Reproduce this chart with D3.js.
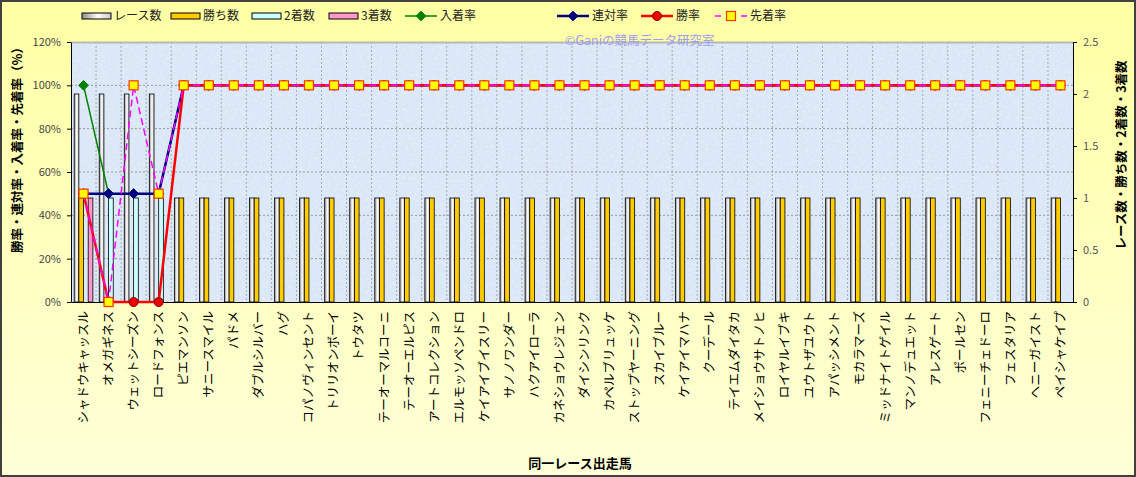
<!DOCTYPE html>
<html lang="ja">
<head>
<meta charset="utf-8">
<title>同一レース出走馬</title>
<script src="https://d3js.org/d3.v7.min.js"></script>
<style>
  body { margin: 0; background: #ffffd0; }
  svg text { font-family: "Noto Sans CJK JP", "Liberation Sans", sans-serif; }
</style>
</head>
<body>
<svg id="chart" width="1136" height="477"></svg>
<script>
// データ
var horses = ["シャドウキャッスル","オメガギネス","ウェットシーズン","ロードフォンス","ピエマンソン",
  "サニースマイル","パドメ","ダブルシルバー","ハグ","コパノヴィンセント","トリリオンボーイ","トウタツ",
  "テーオーマルコーニ","テーオーエルピス","アートコレクション","エルモッソペンドロ","ケイアイブイスリー",
  "サノノワンダー","ハクアイローラ","カネショウレジェン","ダイシンリンク","カペルブリュッケ",
  "ストップヤーニング","スカイブルー","ケイアイマハナ","クーデール","テイエムダイタカ","メイショウサトノヒ",
  "ロイヤルイブキ","ユウトザユウト","アパッシメント","モカラマーズ","ミッドナイトゲイル","マンノデュエット",
  "アレスゲート","ポールセン","フェニーチェドーロ","フェスタリア","ヘニーガイスト","ペイシャケイプ"];
var races  = [2,2,2,2,1,1,1,1,1,1,1,1,1,1,1,1,1,1,1,1,1,1,1,1,1,1,1,1,1,1,1,1,1,1,1,1,1,1,1,1];
var wins   = [1,0,0,0,1,1,1,1,1,1,1,1,1,1,1,1,1,1,1,1,1,1,1,1,1,1,1,1,1,1,1,1,1,1,1,1,1,1,1,1];
var second = [0,1,1,1,0,0,0,0,0,0,0,0,0,0,0,0,0,0,0,0,0,0,0,0,0,0,0,0,0,0,0,0,0,0,0,0,0,0,0,0];
var third  = [1,0,0,0,0,0,0,0,0,0,0,0,0,0,0,0,0,0,0,0,0,0,0,0,0,0,0,0,0,0,0,0,0,0,0,0,0,0,0,0];
var nyuchakuRate = [100,50,50,50,100,100,100,100,100,100,100,100,100,100,100,100,100,100,100,100,100,100,100,100,100,100,100,100,100,100,100,100,100,100,100,100,100,100,100,100];
var rentaiRate   = [50,50,50,50,100,100,100,100,100,100,100,100,100,100,100,100,100,100,100,100,100,100,100,100,100,100,100,100,100,100,100,100,100,100,100,100,100,100,100,100];
var winRate      = [50,0,0,0,100,100,100,100,100,100,100,100,100,100,100,100,100,100,100,100,100,100,100,100,100,100,100,100,100,100,100,100,100,100,100,100,100,100,100,100];
var senchakuRate = [50,0,100,50,100,100,100,100,100,100,100,100,100,100,100,100,100,100,100,100,100,100,100,100,100,100,100,100,100,100,100,100,100,100,100,100,100,100,100,100];
var leftTicks  = [0,20,40,60,80,100,120];
var rightTicks = [0,0.5,1,1.5,2,2.5];

var svg = d3.select("#chart");
var W = 1136, H = 477;
var pLeft = 71, pRight = 1073, pTop = 42, pBottom = 302;

var defs = svg.append("defs");
var bg = defs.append("linearGradient").attr("id","bgGrad").attr("x1",0).attr("y1",0).attr("x2",0).attr("y2",1);
bg.append("stop").attr("offset","0%").attr("stop-color","#ffffa4");
bg.append("stop").attr("offset","100%").attr("stop-color","#ffffd8");
var rg = defs.append("linearGradient").attr("id","raceGrad").attr("x1",0).attr("y1",0).attr("x2",1).attr("y2",0);
rg.append("stop").attr("offset","0%").attr("stop-color","#8c8c8c");
rg.append("stop").attr("offset","55%").attr("stop-color","#ffffff");
rg.append("stop").attr("offset","100%").attr("stop-color","#c8c8c8");
var tex = defs.append("filter").attr("id","tex").attr("x",0).attr("y",0).attr("width","100%").attr("height","100%");
tex.append("feTurbulence").attr("type","fractalNoise").attr("baseFrequency","0.35").attr("numOctaves",2).attr("seed",3);
tex.append("feColorMatrix").attr("values","0 0 0 0 1  0 0 0 0 1  0 0 0 0 1  0 0 0 -1.4 0.75");
tex.append("feComposite").attr("in2","SourceGraphic").attr("operator","in");

// 背景
svg.append("rect").attr("x",1).attr("y",1).attr("width",W-2).attr("height",H-2)
  .attr("fill","url(#bgGrad)").attr("stroke","#404040").attr("stroke-width",2);

var x = d3.scaleBand().domain(horses).range([pLeft,pRight]);
var keys = ["races","wins","second","third"];
var groupW = 18.7;
var xs = d3.scaleBand().domain(keys).range([0,groupW]);
var yL = d3.scaleLinear().domain([0,120]).range([pBottom,pTop]);
var yR = d3.scaleLinear().domain([0,2.5]).range([pBottom,pTop]);
var cx = function(i){ return x(horses[i]) + x.bandwidth()/2; };

// プロットエリア
svg.append("rect").attr("x",pLeft).attr("y",pTop).attr("width",pRight-pLeft).attr("height",pBottom-pTop).attr("fill","#dae7f7");
svg.append("rect").attr("x",pLeft).attr("y",pTop).attr("width",pRight-pLeft).attr("height",pBottom-pTop)
  .attr("fill","#ffffff").attr("filter","url(#tex)").attr("opacity",0.6);

svg.append("g").selectAll("line").data(leftTicks.filter(function(d){return d>0 && d<120;})).join("line")
  .attr("x1",pLeft).attr("x2",pRight).attr("y1",function(d){return yL(d);}).attr("y2",function(d){return yL(d);})
  .attr("stroke","#9a9a9a").attr("stroke-dasharray","2,2");
svg.append("g").selectAll("line").data(horses.slice(1)).join("line")
  .attr("x1",function(d){return x(d);}).attr("x2",function(d){return x(d);}).attr("y1",pTop).attr("y2",pBottom)
  .attr("stroke","#aaaaaa").attr("stroke-dasharray","2,2");
svg.append("line").attr("x1",pLeft).attr("x2",pRight).attr("y1",pTop+0.5).attr("y2",pTop+0.5).attr("stroke","#b8b8b8").attr("stroke-width",2);

// 棒
var series = { races: races, wins: wins, second: second, third: third };
var fills = { races: "url(#raceGrad)", wins: "#ffcc00", second: "#ccffff", third: "#ff99cc" };
var off = (x.bandwidth() - groupW) / 2;
keys.forEach(function(k){
  svg.append("g").selectAll("rect").data(series[k]).join("rect")
    .attr("x",function(d,i){ return x(horses[i]) + off + xs(k); })
    .attr("width",xs.bandwidth())
    .attr("y",function(d){ return yR(d); })
    .attr("height",function(d){ return pBottom - yR(d); })
    .attr("fill",fills[k]).attr("stroke","#000").attr("stroke-width",0.8)
    .attr("display",function(d){ return d > 0 ? null : "none"; });
});

// 軸
var axL = svg.append("g").attr("transform","translate("+pLeft+",0)")
  .call(d3.axisLeft(yL).tickValues(leftTicks).tickFormat(function(d){return d+"%";}).tickSize(4).tickSizeOuter(0));
var axR = svg.append("g").attr("transform","translate("+pRight+",0)")
  .call(d3.axisRight(yR).tickValues(rightTicks).tickFormat(d3.format("")).tickSize(4).tickSizeOuter(0));
var axB = svg.append("g").attr("transform","translate(0,"+pBottom+")")
  .call(d3.axisBottom(x).tickSize(0).tickSizeOuter(0));
[axL, axR, axB].forEach(function(a){ a.select(".domain").attr("stroke","#000"); a.selectAll(".tick line").attr("stroke","#000"); });
axL.selectAll("text").attr("font-family","Liberation Sans, sans-serif").attr("font-size",11).attr("fill","#444").attr("x",-10);
axR.selectAll("text").attr("font-family","Liberation Sans, sans-serif").attr("font-size",11).attr("fill","#555").attr("x",10);
axB.selectAll("text").attr("font-size",12.5).attr("fill","#000")
  .attr("text-anchor","end").attr("dy","0.35em").attr("y",0)
  .attr("transform","translate(0,9) rotate(-90)");

// 折れ線
var rateSeries = [
  { data: nyuchakuRate, color: "#008000", width: 1.5, dash: null, marker: "diamond" },
  { data: rentaiRate,   color: "#000080", width: 2.5, dash: null, marker: "diamond" },
  { data: winRate,      color: "#ff0000", width: 2.5, dash: null, marker: "circle" },
  { data: senchakuRate, color: "#ff00ff", width: 1.5, dash: "7,4", marker: "square" }
];
var line = d3.line().x(function(d,i){ return cx(i); }).y(function(d){ return yL(d); });
function drawMarker(g, type, color){
  if (type === "diamond") {
    g.append("path").attr("d", d3.symbol(d3.symbolDiamond2 || d3.symbolDiamond, 60)())
      .attr("fill",color).attr("stroke",color);
  } else if (type === "circle") {
    g.append("circle").attr("r",4.5).attr("fill","#ee0000").attr("stroke","#800000").attr("stroke-width",1);
  } else {
    g.append("rect").attr("x",-4.5).attr("y",-4.5).attr("width",9).attr("height",9)
      .attr("fill","#ffff00").attr("stroke","#ff3300").attr("stroke-width",1.2);
  }
}
rateSeries.forEach(function(s){
  svg.append("path").datum(s.data).attr("d",line).attr("fill","none")
    .attr("stroke",s.color).attr("stroke-width",s.width).attr("stroke-dasharray",s.dash);
  svg.append("g").selectAll("g").data(s.data).join("g")
    .attr("transform",function(d,i){ return "translate("+cx(i)+","+yL(d)+")"; })
    .each(function(){ drawMarker(d3.select(this), s.marker, s.color); });
});

// ウォーターマーク
svg.append("text").attr("x",565).attr("y",45).attr("font-size",12.5).attr("fill","#9c9cf0")
  .text("©Ganiの競馬データ研究室");

// 軸タイトル
svg.append("text").attr("transform","translate(22,147) rotate(-90)").attr("text-anchor","middle")
  .attr("font-size",12.5).attr("font-weight","bold").text("勝率・連対率・入着率・先着率（%）");
svg.append("text").attr("transform","translate(1126,155) rotate(-90)").attr("text-anchor","middle")
  .attr("font-size",12.5).attr("font-weight","bold").text("レース数・勝ち数・2着数・3着数");
svg.append("text").attr("x",580).attr("y",468).attr("text-anchor","middle")
  .attr("font-size",13).attr("font-weight","bold").text("同一レース出走馬");

// 凡例
var legendItems = [
  { label: "レース数", kind: "bar", fill: "url(#raceGrad)", x: 82 },
  { label: "勝ち数", kind: "bar", fill: "#ffcc00", x: 171 },
  { label: "2着数", kind: "bar", fill: "#ccffff", x: 252 },
  { label: "3着数", kind: "bar", fill: "#ff99cc", x: 329 },
  { label: "入着率", kind: "line", s: rateSeries[0], x: 405 },
  { label: "連対率", kind: "line", s: rateSeries[1], x: 557 },
  { label: "勝率", kind: "line", s: rateSeries[2], x: 641 },
  { label: "先着率", kind: "line", s: rateSeries[3], x: 715 }
];
var lg = svg.append("g").attr("transform","translate(0,16)");
legendItems.forEach(function(it){
  var g = lg.append("g").attr("transform","translate("+it.x+",0)");
  if (it.kind === "bar") {
    g.append("rect").attr("x",0).attr("y",-3).attr("width",29).attr("height",6)
      .attr("fill",it.fill).attr("stroke","#000").attr("stroke-width",1);
  } else {
    g.append("line").attr("x1",0).attr("x2",32).attr("y1",0).attr("y2",0)
      .attr("stroke",it.s.color).attr("stroke-width",it.s.width).attr("stroke-dasharray",it.s.dash ? "6,7" : null);
    drawMarker(g.append("g").attr("transform","translate(16,0)"), it.s.marker, it.s.color);
  }
  g.append("text").attr("x",it.kind === "bar" ? 32 : 35).attr("y",0).attr("dy","0.35em")
    .attr("font-size",12).attr("fill","#222").text(it.label);
});
</script>
</body>
</html>
